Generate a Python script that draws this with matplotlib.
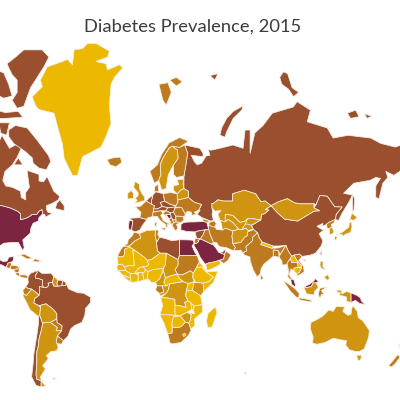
import numpy as np
import matplotlib
matplotlib.use('Agg')
import matplotlib.pyplot as plt

TITLE = "Diabetes Prevalence, 2015"
C1, C2, C3, C4, C5 = '#7B2540', '#9A4F2E', '#BE7A1E', '#D09510', '#EDB800'

# ---- outlines as (lon, lat) ----
greenland=[(-37.2,83.7),(-31.5,83.7),(-22.4,83.1),(-23.6,82.6),(-31.5,82.2),(-24.7,82),(-23.6,81.4),(-15.6,81.9),(-13.4,81.6),(-19,80.6),(-21.3,79.8),(-22.4,76.8),(-21.3,73.9),(-24.7,71.2),(-28.1,68.8),(-40.6,66.3),(-44,60.7),(-47.4,60.7),(-53,65.9),(-54.2,69.6),(-56.5,72.2),(-59.9,75.7),(-70,76.3),(-72.3,76.9),(-74.6,78.2),(-67.8,79.5),(-69,80.3),(-64.4,81.7),(-54.2,82.2),(-50.8,82.4),(-47.4,81.9),(-46.3,83.2),(-40.6,83.3)]
ellesmere=[(-91.6,82),(-85.9,82.6),(-80.3,83.2),(-67.8,83.2),(-63.3,82.6),(-66.7,81.7),(-71.2,80.6),(-75.7,79.4),(-80.3,76.8),(-84.8,76.5),(-88.2,77.7),(-84.8,78.8),(-84.8,80.3),(-88.2,80.9),(-90.5,81.6)]
heiberg=[(-100,81.4),(-93.9,81.1),(-90.5,79.8),(-88.2,78.3),(-93.9,78),(-100,78.6)]
devon=[(-100,76.3),(-93,75.8),(-84,76),(-81,75),(-93,74.8),(-100,74.8)]
melville=[(-105,76.7),(-97,76.7),(-97,75.4),(-105,75)]
baffin=[(-90.5,72.6),(-85.9,73.5),(-78,73),(-71.2,70.4),(-63.7,66.7),(-62,65),(-65,62.5),(-70,63),(-74,64.5),(-74.6,66),(-79.1,67.6),(-83.7,68.8),(-87,69.6),(-90.5,71.2)]
southampton=[(-87,64),(-81,64),(-84,66)]
somerset=[(-97,74),(-90,74),(-92,71.5),(-96,72)]
pow_island=[(-102,73.5),(-97.5,73.5),(-97.5,71),(-102,70)]
newfoundland=[(-59,47.7),(-53,46.7),(-53,49),(-56,51.5),(-58,50)]
canada=[(-100,49),(-95,49),(-89.5,48),(-84.5,46.5),(-82.5,45.3),(-82.5,42.5),(-79,43),(-76,44.2),(-74.7,45),(-71.5,45),(-70,46.5),(-68,47.3),(-67.5,45.2),(-66,44.8),(-65.7,43.6),(-61,45.5),(-64,46),(-65,47.5),(-65,49),(-61,50),(-57,51.5),(-56,53),(-60,55),(-62,57.5),(-64.5,60.3),(-67,58.5),(-70,58.8),(-70,61),(-78,62.3),(-77.5,60),(-76.5,56.5),(-79,54.5),(-79,51.5),(-82,52.5),(-82.5,55),(-88,56.5),(-92.5,57),(-94.5,59),(-93,62),(-88,64),(-85,66),(-82,68.5),(-85,69.5),(-90,68.5),(-95,71.5),(-100,68),(-105,68)]
usa=[(-105,49),(-95,49),(-89.5,48),(-84.5,46.5),(-82.5,45.3),(-82.5,42.5),(-79,43),(-76,44.2),(-74.7,45),(-71.5,45),(-70,46.5),(-68,47.3),(-67.5,45.2),(-70,43.5),(-70.5,41.7),(-74,40.6),(-75.5,38),(-76,35.2),(-81,31.5),(-80,26.8),(-81,25.2),(-82.8,28),(-84,30),(-89,30),(-94,29.5),(-97.2,27.5),(-97.2,25.9),(-100,29),(-105,31)]
mexico=[(-105,31),(-100,29),(-97.2,25.9),(-97.7,22.3),(-96,19),(-94,18.2),(-91.5,18.6),(-90.5,21),(-87,21.5),(-87.7,18.3),(-89,17.9),(-91,17.2),(-92.2,14.5),(-95,16),(-105,18)]
guatemala=[(-92.2,14.5),(-91,17.2),(-89,17.9),(-88.6,15.8),(-89.3,14.3),(-90.5,13.8)]
honduras=[(-89,15.5),(-88,15.9),(-83.2,15),(-84.5,13.5),(-87.5,13),(-89.3,13.5)]
nicaragua=[(-87.5,13),(-84.5,13.5),(-83.2,15),(-83.7,11),(-85.7,11)]
costarica=[(-85.7,11),(-83.7,11),(-83,9.2),(-83,8.3),(-85.5,9.5)]
panama=[(-83,8.3),(-83,9.5),(-79.5,9.5),(-77.5,8.7),(-78,7.3),(-80.5,7.5)]
cuba=[(-85,22),(-80,23),(-74.2,20.2),(-78,19.9),(-82,22)]
hispaniola=[(-74.4,18.5),(-72.8,20),(-68.4,18.6),(-71,18)]
colombia=[(-77.3,8.6),(-75.5,10.7),(-74,11.2),(-71.5,12.4),(-71.2,11),(-72.5,9),(-72,7),(-70,7),(-67.5,6),(-67.8,3),(-67,1.2),(-69.8,1.7),(-69.5,-0.5),(-70,-4.2),(-72,-2.4),(-75,-0.1),(-77.5,0.4),(-79,1.5),(-77.3,4),(-77.5,7)]
venezuela=[(-71.5,12.4),(-71.2,11),(-72.5,9),(-72,7),(-70,7),(-67.5,6),(-67.8,3),(-67,1.2),(-65,1),(-63.5,2.3),(-64,4),(-61,4.5),(-60.7,5.2),(-60,8.5),(-62,10.7),(-64,10.5),(-68,10.5),(-70,12)]
guyana=[(-60,8.5),(-60.7,5.2),(-61,4.5),(-60,2),(-57.5,1.9),(-58,4),(-57.2,6)]
suriname=[(-57.2,6),(-58,4),(-57.5,1.9),(-54.5,2.3),(-54,5.8)]
fguiana=[(-54,5.8),(-54.5,2.3),(-52,2.3),(-51.7,4.2)]
ecuador=[(-79,1.5),(-77.5,0.4),(-75,-0.1),(-78.5,-4.5),(-80.3,-3.4),(-81,-1)]
peru=[(-81,-4.5),(-80.3,-3.4),(-78.5,-4.5),(-75,-0.1),(-72,-2.4),(-70,-4.2),(-73,-6.5),(-73.5,-9.5),(-70.5,-11),(-69,-12.5),(-69.5,-17.5),(-70.4,-18.3),(-76,-14),(-79,-8)]
bolivia=[(-69,-11),(-65.3,-10),(-60.5,-13.5),(-58,-16.5),(-58,-19.8),(-62.5,-22),(-66,-22),(-67.5,-22.8),(-69.5,-17.5),(-69,-12.5)]
paraguay=[(-58,-19.8),(-57.8,-22.2),(-54.5,-24),(-54.7,-27),(-58.5,-27.2),(-57.6,-25.2),(-62.5,-22)]
uruguay=[(-58.4,-33.5),(-57.6,-30.2),(-53.5,-33),(-54.8,-35),(-58,-34.5)]
argentina=[(-66,-22),(-62.5,-22),(-57.6,-25.2),(-58.5,-27.2),(-54.7,-27),(-57.6,-30.2),(-58.4,-33.5),(-57,-36.5),(-58,-38.5),(-62,-39),(-65,-41),(-63.7,-42.5),(-67.5,-46),(-65.7,-47.5),(-69,-51),(-68.5,-52.5),(-71.5,-52),(-72,-50),(-71.5,-44),(-71.5,-39),(-70.5,-36),(-70,-32),(-68.5,-27),(-67.5,-22.8)]
tierra=[(-68.5,-52.7),(-65.5,-54.8),(-68.6,-54.9)]
chile=[(-70.4,-18.3),(-69.5,-17.5),(-67.5,-22.8),(-68.5,-27),(-70,-32),(-70.5,-36),(-71.5,-39),(-71.5,-44),(-72,-50),(-71.5,-52),(-68.5,-52.5),(-68.6,-55),(-72,-54.5),(-75,-51),(-74,-45),(-73.5,-40),(-71.5,-30),(-70.4,-23)]
brazil=[(-51.7,4.2),(-52,2.3),(-54.5,2.3),(-57.5,1.9),(-60,2),(-61,4.5),(-64,4),(-63.5,2.3),(-65,1),(-67,1.2),(-69.8,1.7),(-69.5,-0.5),(-70,-4.2),(-73,-6.5),(-73.5,-9.5),(-70.5,-11),(-69,-11),(-65.3,-10),(-60.5,-13.5),(-58,-16.5),(-58,-19.8),(-57.8,-22.2),(-54.5,-24),(-54.7,-27),(-57.6,-30.2),(-53.5,-33),(-50.5,-30.5),(-48.5,-26),(-46,-24),(-41,-22),(-39,-17.5),(-38.5,-13),(-35,-9),(-35.2,-5.5),(-40,-2.8),(-44,-2.5),(-48,-0.8),(-50,0)]
falkland=[(-61,-51.5),(-58,-51.5),(-60,-52.3)]

morocco=[(-5.9,35.8),(-2,35.1),(-1.2,32.5),(-5,31),(-8.7,28),(-13,27.7),(-10,29.5),(-9.7,31.5),(-6.8,34)]
wsahara=[(-13,27.7),(-8.7,27.7),(-8.7,26),(-12,26),(-12,23.4),(-13,21.3),(-17,21.3),(-16,23.5),(-14.5,26)]
mauritania=[(-17,21.3),(-13,21.3),(-12,23.4),(-12,26),(-8.7,27.3),(-4.8,25),(-6.5,25),(-5.5,15.5),(-9.5,15.5),(-12.2,14.8),(-14,16.6),(-16.5,16.2)]
mali=[(-12.2,14.8),(-9.5,15.5),(-5.5,15.5),(-6.5,25),(-4.8,25),(1.2,21),(3.2,19),(4.2,16.5),(3.5,15.4),(0.3,14.9),(-2,14.2),(-3,13.5),(-5.3,10.5),(-8,10.2),(-11.3,12.2)]
algeria=[(-2,35.1),(3,36.8),(9,37),(8.5,34),(9.5,30),(10,25),(12,23.5),(6,19.5),(3.2,19),(1.2,21),(-4.8,25),(-8.7,27.3),(-8.7,28),(-5,31),(-1.2,32.5)]
tunisia=[(9,37),(11,37),(10.3,34.5),(11.5,33),(9.5,30),(8.5,34)]
libya=[(11.5,33),(15,32.4),(20,31),(25,31.6),(25,22),(24,19.5),(16,23.5),(12,23.5),(10,25),(9.5,30)]
egypt=[(25,31.6),(31,31.5),(34.2,31.3),(34.9,29.5),(33.5,27.9),(35.5,24),(37,22),(25,22)]
sudan=[(25,22),(37,22),(38.5,18),(36.5,14.3),(34.3,10.5),(32.5,12.2),(27,9.5),(23.5,10),(22,13),(24,15.7),(24,19.5)]
ssudan=[(23.5,10),(27,9.5),(32.5,12.2),(34.3,10.5),(34,8),(35,5),(31,3.7),(27.5,5),(25,7)]
chad=[(16,23.5),(24,19.5),(24,15.7),(22,13),(23.5,10),(18.8,8.8),(15.5,7.5),(14,12.5),(14,13.5),(15.5,16.5)]
niger=[(12,23.5),(16,23.5),(15.5,16.5),(14,13.5),(13.5,13.7),(7,13),(3.7,11.7),(2.2,12.7),(0.3,14.9),(3.5,15.4),(4.2,16.5),(3.2,19),(6,19.5)]
nigeria=[(3,6.4),(3.7,11.7),(7,13),(13.5,13.7),(14,12.5),(11.5,6.8),(8.8,4.6),(6,4.3),(4.5,6.3)]
senegal=[(-17.5,14.7),(-16.5,16.2),(-14,16.6),(-12.2,14.8),(-11.5,12.5),(-16.7,12.4)]
guinea=[(-16.7,12.4),(-11.5,12.5),(-11.3,12.2),(-8,10.2),(-8.3,7.5),(-10.5,8.5),(-13.2,9.2),(-15,11)]
sleone=[(-13.2,9.2),(-10.5,8.5),(-11.4,6.9)]
liberia=[(-11.4,6.9),(-10.5,8.5),(-8.3,7.5),(-7.5,4.4)]
ivory=[(-7.5,4.4),(-8.3,7.5),(-8,10.2),(-5.3,10.5),(-2.8,9.5),(-3,5)]
burkina=[(-5.3,10.5),(-3,13.5),(-2,14.2),(0.3,14.9),(2.2,12.7),(0.9,11),(-2.8,11)]
ghana=[(-3,5),(-2.8,11),(0,11),(1.1,6)]
benin=[(1.1,6),(0,11),(0.9,11),(2.2,12.7),(3.7,11.7),(3,6.4)]
cameroon=[(8.8,4.6),(11.5,6.8),(14,12.5),(15.5,7.5),(14.5,4.5),(16,2),(9.8,2.2)]
car=[(15.5,7.5),(18.8,8.8),(23.5,10),(25,7),(27.5,5),(22.5,4.2),(18.5,3.6),(16,2.2),(14.5,4.5)]
gabon=[(9.8,2.2),(13.3,2.2),(14.5,-2.2),(11.5,-3),(8.8,-0.7)]
congo=[(13.3,2.2),(16,2),(18.5,3.6),(17.5,-0.5),(16,-3),(12,-4.8),(11.5,-3),(14.5,-2.2)]
drc=[(18.5,3.6),(22.5,4.2),(27.5,5),(31,3.7),(29.7,-0.5),(29.2,-4.5),(30.7,-8),(28.5,-9),(29.5,-12.5),(28,-12),(24,-11),(22,-11),(21.8,-7),(16.5,-6),(12.3,-6),(16,-3),(17.5,-0.5)]
uganda=[(31,3.7),(35,4.5),(33.9,0),(33.9,-1),(29.7,-1.4)]
kenya=[(34,4.2),(36,4.5),(41,4),(41.5,-1.7),(39.3,-4.7),(33.9,-1),(33.9,0.5)]
eritrea=[(36.5,14.3),(38.5,18),(43,12.5),(40,14.7)]
ethiopia=[(34.3,10.5),(36.5,14.3),(40,14.7),(43,11.5),(48,8),(45,5),(41,4),(36,4.5),(34,8)]
somalia=[(43,11.5),(51,12),(48,4.5),(41.5,-1.7),(41,4),(45,5),(48,8)]
tanzania=[(33.9,-1),(39.3,-4.7),(40.4,-10.5),(34.8,-11.5),(32.7,-9.3),(30.7,-8),(29.2,-4.5),(29.7,-1.4)]
angola=[(12.3,-6),(16.5,-6),(21.8,-7),(22,-11),(24,-11),(22,-13),(22,-16.5),(23.3,-17.6),(13.5,-17),(11.8,-17.3),(13.7,-11)]
zambia=[(22,-11),(24,-11),(28,-12),(29.5,-12.5),(28.5,-9),(30.7,-8),(32.7,-9.3),(33.5,-13.5),(30.2,-15.5),(28,-16.5),(25.5,-17.7),(23,-17.6),(22,-16.5),(22,-13)]
namibia=[(11.8,-17.3),(13.5,-17),(23.3,-17.6),(25,-17.8),(21,-18.5),(20,-22),(20,-28.5),(17,-28.8),(14.5,-22.5)]
botswana=[(21,-18.5),(25.5,-17.9),(29,-22),(26,-24.7),(23,-25.3),(20,-24.8),(20,-22)]
zimbabwe=[(25.5,-17.9),(28,-16.5),(30.2,-15.5),(33,-17),(32.5,-20.5),(31.3,-22.4),(29,-22)]
mozambique=[(34.8,-11.5),(40.4,-10.5),(40.5,-15.5),(35,-20),(35.5,-24),(32.8,-26),(32,-24),(31.3,-22.4),(32.5,-20.5),(33,-17),(30.2,-15.5),(35,-16.5),(34.5,-14)]
malawi=[(32.7,-9.3),(34.8,-11.5),(34.5,-14),(35,-16.5),(33.5,-13.5)]
safrica=[(17,-28.8),(20,-28.5),(20,-24.8),(23,-25.3),(26,-24.7),(29,-22),(31.3,-22.4),(32,-24),(32.8,-27),(31,-30),(26,-34),(20,-34.8),(18.3,-34),(18,-32)]
lesotho=[(27,-29.5),(28.5,-28.6),(29.4,-29.7),(28,-30.6)]
madagascar=[(49.3,-12),(50.4,-15.8),(47,-25),(44,-25),(43.3,-21),(44.4,-16.2)]

saudi=[(34.9,29.4),(36.5,29.5),(38,30.5),(37.5,31),(39.2,32.1),(42,31),(46.5,29.1),(48,28.5),(50,26.3),(51.2,24.5),(55.5,22.7),(55,20),(52,19),(48.5,18),(45,17.4),(43.2,16.8),(42.5,16.4),(39,21),(37,25),(34.9,28)]
yemen=[(42.8,16.4),(45,17.4),(48.5,18),(52,19),(53,16.6),(48,14),(45,12.8),(43.5,12.7)]
oman=[(52,19),(55,20),(55.5,22.7),(56.3,24.8),(58.7,23.5),(59.8,22.3),(57.8,19),(55,17)]
uae=[(51.2,24.2),(55.5,22.7),(56.3,24.8),(56,26),(54,24.2)]
iraq=[(39.2,32.1),(42,31),(46.5,29.1),(48,30),(46,34),(44.8,37.2),(42.4,37.1),(41,34.5)]
syria=[(36,35.8),(36.5,36.3),(42.4,37.1),(41,34.5),(39.2,32.1),(36.8,32.3),(35.8,34.7)]
jordan=[(35,29.5),(36.5,29.5),(38,30.5),(37.5,31),(39.2,32.1),(36.8,32.3),(35.6,32.4)]
turkey=[(26,40),(26,37),(30,36.2),(36,36),(36.5,36.3),(42.4,37.1),(44.8,37.2),(43.5,41),(41.5,41.5),(36,41.3),(31,41.2),(28,41)]
iran=[(44.8,37.2),(46,34),(48,30),(50,30),(52,27.5),(56.5,27),(61.5,25),(63,27),(61,29.5),(61,31.5),(60.5,33.5),(61.2,36.5),(56,38),(54,37),(50,37.4),(48.5,39.5),(44.5,39.5)]
georgia=[(40,43),(46,41.7),(43.5,41),(41.5,41.5)]
azerbaijan=[(45,41),(48.5,41.8),(50,40.3),(48.5,38.5),(45,39.5)]
kazakhstan=[(47,50),(47,48),(49,46.5),(53,46.8),(51,45),(52.5,42),(56,41.3),(56,45),(61,44.5),(66,41),(69,41.5),(71,42.8),(74,43),(80,42.2),(80.5,45),(82.5,45.3),(85.5,47),(83,47.2),(87,49),(83,51),(80,50.8),(76.5,54),(71,55),(69,55.4),(61,54),(61,51),(55,51),(51,51.5),(48,50)]
uzbekistan=[(56,41.3),(56,45),(61,44.5),(66,41),(69,41.5),(71,42.3),(73,40.7),(71,40.2),(68,38.3),(67.5,37.2),(65,37.5),(61,41),(58,42.5)]
turkmenistan=[(52.5,42),(56,41.3),(58,42.5),(61,41),(65,37.5),(61.2,36.5),(56,38),(54,37),(53.5,40)]
kyrgyz=[(69.5,40),(71,42.8),(74,43),(80,42.2),(73.5,39.5)]
tajik=[(67.5,37.2),(68,38.3),(69.5,40),(71,40.2),(73.5,39.5),(75,37.3),(71.5,36.7),(70,38)]
afghanistan=[(61.2,36.5),(65,37.5),(67.5,37.2),(70,38),(71.5,36.7),(75,37.3),(71,36),(71,34),(69,33),(66.5,30),(62,29.5),(61,29.5),(61,31.5),(60.5,33.5)]
pakistan=[(61,29.5),(62,29.5),(66.5,30),(69,33),(71,34),(71,36),(75,37.3),(77.8,35.5),(74.5,33),(74.5,31),(70,27.5),(70.5,25),(68,23.7),(66.5,25.4),(61.5,25),(63,27)]
india=[(77.8,35.5),(79,32.5),(81,30.2),(80,28.8),(88,26.4),(88.2,27.9),(89,26.5),(92,26.8),(97,28.3),(94.5,24.5),(93,22.5),(92,25),(88.5,25.5),(88.5,21.7),(86.5,20),(82,16.5),(80.2,13.5),(79.8,10.3),(77.5,8.1),(74.8,13),(72.8,19),(72.7,21.2),(69,22.3),(68,23.7),(70.5,25),(70,27.5),(74.5,31),(74.5,33)]
nepal=[(80,28.8),(81,30.2),(88.2,27.9),(88,26.4)]
bangladesh=[(88.5,25.5),(92,25),(92.5,21),(88.5,21.7)]
srilanka=[(80,9.7),(81.8,7.3),(80.5,5.9),(79.8,7.5)]
myanmar=[(92.5,21),(93,22.5),(94.5,24.5),(97,28.3),(98.5,25),(101,21.5),(97.8,17),(98.8,11),(97.7,16.3),(94.5,16),(94.3,18.5)]
thailand=[(97.8,17),(100,20.3),(101,17.5),(104.5,17.8),(105.5,14.3),(102.5,14),(102.5,12),(100.5,13.5),(99.2,9.5),(101,6.8),(99.8,6.5),(98.2,8.5),(99,11.5)]
laos=[(101,21.5),(102.5,22.3),(104,19.5),(107.5,15.5),(107,14.5),(105.5,14.3),(104.5,17.8),(101,17.5),(100,20.3)]
cambodia=[(102.5,14),(105.5,14.3),(107.5,14),(106,11),(104.5,10.4),(102.5,12)]
vietnam=[(102.5,22.3),(106,23),(108,21.5),(105.8,19),(109,15),(109.3,11.5),(105,8.7),(104.5,10.4),(106,11),(107.5,14),(107.5,15.5),(104,19.5)]
china=[(73.8,39.5),(80,42.2),(80.5,45),(82.5,45.3),(85.5,47),(83,47.2),(87,49),(91,46),(96,42.7),(105,41.7),(112,44.8),(116,46.5),(119.7,46.7),(116,48),(117.5,49.5),(120,53.3),(125,53),(130,48.5),(135,48.4),(131,45),(130.5,42.5),(126,41),(124.3,39.9),(121.5,39),(122,40.5),(118,39),(120.5,37.7),(122.5,37),(119.5,35),(122,31),(121,28),(117,23.5),(113.5,22.3),(108,21.5),(106,23),(102.5,22.3),(101,21.5),(98.5,25),(97,28.3),(92,27.9),(88.2,27.9),(81,30.2),(79,32.5),(77.8,35.5),(75,37.3)]
mongolia=[(87,49),(91,46),(96,42.7),(105,41.7),(112,44.8),(116,46.5),(119.7,46.7),(116,48),(116,49.8),(107,49.8),(103,50.2),(98,52),(92,50.7)]
russia=[(28,60),(28,56),(31,55),(31,52.5),(35,50.5),(40,49.5),(38,47),(39,47),(37,45),(40,43.5),(46,41.7),(48,42),(47,45),(47.5,46),(47,48),(47,50),(48,50),(51,51.5),(55,51),(61,51),(61,54),(69,55.4),(71,55),(76.5,54),(80,50.8),(83,51),(87,49),(92,50.7),(98,52),(103,50.2),(107,49.8),(116,49.8),(117.5,49.5),(120,53.3),(125,53),(130,48.5),(135,48.4),(131,45),(130.5,42.5),(132.7,42),(135,45.5),(139.5,50.4),(142,53.5),(136,54.2),(143,58),(154,59),(157.8,60),(161,59.7),(157.8,57),(157.8,52.5),(160,52),(162.6,58),(166,60),(164.6,62),(170,60.7),(175,62.3),(180,64),(180,69),(175,69.3),(171,68.8),(161,69.7),(154.4,70.9),(139,71.5),(129,70.9),(125,73),(111.5,74.2),(113.6,76.2),(104.6,77.5),(102,76.7),(87.8,75.7),(81.6,73.5),(76,72),(72.8,67.2),(72.8,72.6),(69.4,72.6),(68,68.5),(61.2,69.3),(52.4,68.5),(46,68),(44.4,68.3),(45.6,66.7),(43,66.5),(40,64.5),(37,64),(35,65),(33,66.7),(41,66.3),(41,67.2),(38.8,68.5),(28.6,69.3),(30.6,67.2),(28.6,62)]
novaya=[(52.4,71.5),(53.5,73),(56.9,74.8),(61.4,76),(68.2,76.9),(67.1,76.2),(61.4,74.8),(56.9,72.2),(55.8,71.1)]
severnaya=[(92.8,80.6),(95.4,81.2),(98.2,81),(101.2,79.4),(105.6,78.8),(102.2,78.2),(98.8,79.2),(94.3,79.8)]
newsib=[(138.6,75.7),(144.2,76.2),(146.5,75.1),(140.8,74.8)]
newsib2=[(150,75.6),(155,75.2),(152,74.8)]
franz=[(45.6,80.8),(51,81),(49,80.3)]
sakhalin=[(142,54),(143.5,52),(143,47),(142,46),(142,50)]
svalbard=[(11.1,79.8),(17.2,80),(19.5,78.8),(16.1,77),(13.8,77.7),(12.7,78.6)]
nordaust=[(18.4,80.3),(22.9,80.6),(27,80.1),(22.9,79.6)]

norway=[(5,62),(8,58),(11,59),(12.5,61),(12,64),(14,66),(18,68.5),(20,69),(25,68.7),(29,69.7),(31,70.2),(25,71),(18,69.8),(13,67),(10,64)]
sweden=[(11,59),(13,55.5),(16,56),(17,59.5),(17.5,61),(21,64),(24,65.8),(23.7,68),(20,69),(18,68.5),(14,66),(12,64),(12.5,61)]
finland=[(21,61),(23,60),(28,60.5),(28.6,62),(30.6,67.2),(28.6,69.3),(25,68.7),(20,69),(23.7,68),(24,65.8),(21,64)]
denmark=[(8,55),(8.5,57),(10.5,57.5),(11,55),(9.5,54.8)]
uk=[(-5.5,50),(1.5,51.2),(1.5,52.8),(0,53.7),(-2,56),(-2,57.6),(-5,58.6),(-6,56.5),(-3,54.5),(-3,53.3),(-5,52),(-3.5,51.4)]
ireland=[(-10,51.8),(-6.2,52.2),(-6,54),(-7.5,55.3),(-10,54.2)]
iceland=[(-24,65.5),(-22,64),(-18,63.4),(-14,64.7),(-15,66.2),(-20,66)]
france=[(-4.8,48.4),(-1.5,48.7),(2.5,51),(8,49),(7.5,47.5),(7,44),(3.2,43.2),(3,42.5),(-1.8,43.4),(-1,46)]
spain=[(-9,43.1),(-1.8,43.4),(3,42.5),(0,39.5),(-2,36.8),(-5.5,36),(-7.4,37.2),(-6.5,41.8)]
portugal=[(-9,41.9),(-6.5,41.8),(-7.4,37.2),(-9,37),(-9.5,38.8)]
germany=[(6,51),(7,53.5),(9,54.8),(14,54),(15,51),(12,50.3),(13.5,48.7),(10,47.5),(7.5,47.6),(8,49),(6,49.5)]
benelux=[(2.5,51),(4,52),(7,53.5),(6,51),(6,49.5)]
poland=[(14,54),(19,54.5),(23.5,54),(24,50.5),(22.7,49),(19,49.5),(15,51)]
czechia=[(12,50.3),(15,51),(19,49.5),(22.7,49),(22,48.4),(17,48),(13.5,48.7)]
austria=[(6,46.5),(7.5,47.6),(10,47.5),(13.5,48.7),(17,48),(16,46.7),(12.5,46.7),(10,46.5)]
hungary=[(16,46.7),(17,48),(22,48.4),(21,46),(18.5,45.8)]
italy=[(7,44),(7,46),(12.5,46.7),(13.7,45.5),(12.3,44.5),(14,42),(18.4,40),(16.5,39.8),(17,39),(16,38),(15.5,40),(12,42),(10,44)]
sicily=[(12.5,38),(15.5,38.2),(15,36.7)]
sardinia=[(8.3,41),(9.7,41),(9.5,39),(8.5,39)]
croatia=[(13.7,45.5),(16,46.7),(18.5,45.8),(19,45),(15.8,45),(18,42.6),(14.5,45)]
bosnia=[(15.8,45),(19,45),(19.5,43.5),(18,42.6)]
serbia=[(19,45),(18.5,45.8),(21,46),(22.5,44.2),(22.7,42.3),(20.5,42.3),(19.5,43.5)]
albania=[(18,42.6),(19.5,43.5),(20.5,42.3),(21,40.5),(19.5,40)]
macedonia=[(20.5,42.3),(22.7,42.3),(22.7,41.3),(21,40.8)]
greece=[(20,39.5),(21,40.8),(22.7,41.3),(26,41),(23,40),(24,38),(22.5,36.5),(21.5,37.5)]
bulgaria=[(22.5,44.2),(27.5,44),(28,42),(26,41),(22.7,41.3),(22.7,42.3)]
romania=[(21,46),(22,48),(26.5,48.2),(29,45.2),(28.5,44),(27.5,44),(22.5,44.2)]
ukraine=[(22,48.4),(24,50.5),(24,51.5),(31,52.5),(35,50.5),(40,49.5),(38,47),(35,46),(36.5,45.2),(33.5,44.5),(33,46),(30.5,46.5),(29,45.2),(26.5,48.2)]
belarus=[(23.5,52),(23.5,54),(26,55.5),(28,56),(31,55),(31,52.5),(24,51.5)]
baltics=[(21,55.3),(23.5,54),(26,55.5),(28,56),(27.5,57.5),(28,59.4),(23.5,59.2),(24.5,57.5),(21,57)]

malaya=[(100.2,6.5),(101,6.8),(102.5,6),(103.5,2.5),(103,1.5),(101,3)]
sabah=[(109.5,1.5),(111.5,2.5),(113,3.2),(115.5,5),(117,7),(119,5),(117.5,4.2),(115.5,4),(114,1.5),(111,1)]
kalimantan=[(109,1.5),(111,1),(114,1.5),(115.5,4),(117.5,4.2),(119,1),(116.5,-1.5),(116,-4),(111,-3.3),(110,-1)]
sumatra=[(95.3,5.6),(98,4),(103.5,0),(106,-3),(105.8,-5.9),(104,-5.5),(100,-1.5),(97,3)]
java=[(105.3,-6.8),(106.5,-6),(110.5,-6.7),(114.5,-7.7),(114.5,-8.7),(108,-7.8)]
sulawesi=[(119.5,-5.5),(119,-3),(120,0.5),(125,1.5),(121,-1),(123,-4),(121,-3.5),(120.5,-5.5)]
luzon=[(120.5,18.5),(122.2,18.3),(122,15),(124,13),(121,13.7),(120,16)]
mindanao=[(122,7.5),(125.5,9.7),(126.5,7),(125,5.8),(123.5,7.5)]
papua=[(131,-0.8),(134.5,-0.8),(135,-3.3),(138,-1.7),(141,-2.6),(141,-9.1),(138,-8.2),(138,-5.5),(133,-4),(134,-2.5),(132,-2.2)]
png=[(141,-2.6),(145,-4.3),(147.5,-6),(148,-8),(150.5,-10.4),(147,-9.8),(144,-7.7),(141,-9.1)]
australia=[(114,-22),(113.5,-26),(115.5,-31),(115,-34.3),(118,-35),(123.5,-34),(129,-31.6),(134,-32.5),(138,-33),(137.5,-35.5),(140,-38),(143.5,-38.8),(146.5,-39),(150,-37.5),(153,-31),(153.5,-27),(149,-21),(146,-19),(145.3,-15),(142.5,-11.3),(141.5,-13),(141,-17),(139,-17.5),(135.5,-15),(136.8,-12),(131,-11.8),(129,-15),(126,-14),(122,-18),(118,-20.3)]
tasmania=[(144.7,-40.8),(148.3,-40.9),(147.5,-43.2),(146,-43.5)]
nz_north=[(172.8,-34.5),(175,-37),(178.4,-37.7),(176,-41.5),(174.7,-41.3),(174.8,-38)]
nz_south=[(172.7,-40.5),(174.3,-41.7),(171,-45),(168.5,-46.6),(166.5,-46),(170,-43)]
honshu=[(131,34.3),(135,35.7),(137,37),(139.5,38.5),(140,41),(141.5,41),(141.7,38.5),(140.8,35.7),(137,34.6),(135.7,33.5),(135,34.6)]
hokkaido=[(140,42),(141.7,45.5),(145.3,43.5),(143,42),(141,42.5)]
kyushu=[(130,33.5),(131.8,33.5),(131,31.2),(130,32)]
nkorea=[(124.3,39.9),(126,41),(130.5,42.5),(129.7,41),(127.5,39.7),(128.3,38.6),(126.5,37.8),(125,38)]
skorea=[(126.5,37.8),(128.3,38.6),(129.4,36),(129,35.2),(126.5,34.4),(126.5,36.5)]
taiwan=[(120,23.5),(121.5,25.2),(121,22)]
hainan=[(109,19.5),(110.7,20),(110,18.3)]
kerguelen=[(68.7,-49),(70.5,-49),(69.8,-49.9)]

class1=[usa,mexico,portugal,bosnia,turkey,egypt,saudi,malaya,sabah,png]
class2=[canada,ellesmere,heiberg,devon,melville,baffin,southampton,somerset,pow_island,newfoundland,russia,novaya,severnaya,newsib,newsib2,franz,sakhalin,china,taiwan,hainan,brazil,colombia,venezuela,suriname,chile,libya,germany,spain,czechia,austria,serbia,syria,uae,fguiana,hungary,benelux]
class3=[guatemala,honduras,nicaragua,costarica,panama,cuba,hispaniola,ecuador,paraguay,uruguay,morocco,wsahara,sudan,tunisia,gabon,safrica,iran,iraq,pakistan,india,bangladesh,srilanka,myanmar,thailand,vietnam,oman,georgia,azerbaijan,jordan,nkorea,sumatra,java,sulawesi,nz_north,nz_south,iceland,norway,svalbard,nordaust,finland,denmark,france,poland,italy,sicily,sardinia,croatia,albania,macedonia,greece,bulgaria,romania,ukraine]
class4=[guyana,peru,bolivia,argentina,tierra,algeria,chad,cameroon,congo,drc,ssudan,kenya,zimbabwe,kazakhstan,uzbekistan,turkmenistan,kyrgyz,tajik,afghanistan,mongolia,honshu,hokkaido,kyushu,skorea,luzon,mindanao,kalimantan,papua,australia,tasmania,uk,ireland,sweden,belarus,baltics]
class5=[greenland,falkland,mauritania,mali,niger,nigeria,senegal,guinea,sleone,liberia,ivory,burkina,ghana,benin,car,uganda,eritrea,ethiopia,somalia,tanzania,angola,zambia,namibia,botswana,mozambique,malawi,lesotho,madagascar,yemen,nepal,laos,cambodia,kerguelen]
classes=[(class1,C1),(class2,C2),(class3,C3),(class4,C4),(class5,C5)]

def mercator(lat):
    return np.degrees(np.log(np.tan(np.pi/4+np.radians(lat)/2)))

fig=plt.figure(figsize=(4,4),dpi=100)
ax=fig.add_axes([0,0,1,1])
ax.set_xlim(-96.4,174.2)
ax.set_ylim(-75.1,195.5)
ax.axis('off')
for shapes,col in classes:
    for s in shapes:
        a=np.array(s,float)
        ax.fill(a[:,0],mercator(a[:,1]),facecolor=col,edgecolor='#F6EFE6',linewidth=0.55,joinstyle='round')
fig.text(0.4825,0.9325,TITLE,ha='center',va='center',fontsize=13.2,color='#3c3c3c',family='Lato')
fig.savefig('out.png',dpi=100)
